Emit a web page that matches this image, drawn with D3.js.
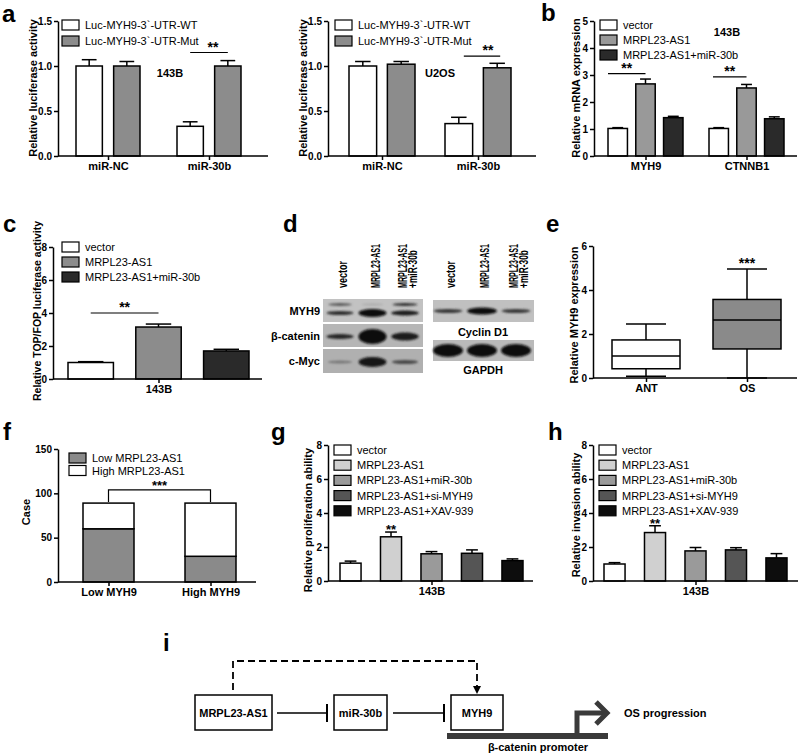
<!DOCTYPE html>
<html>
<head>
<meta charset="utf-8">
<script src="https://cdn.jsdelivr.net/npm/d3@7"></script>
<style>
  body { margin: 0; background: #fff; }
</style>
</head>
<body>
<script>
// ---- data ----
const lucGroups = ["miR-NC", "miR-30b"];
const lucSeries = ["Luc-MYH9-3`-UTR-WT", "Luc-MYH9-3`-UTR-Mut"];
const luc143B = [[1.0, 1.0], [0.33, 1.0]];
const luc143BErr = [[0.07, 0.05], [0.05, 0.06]];
const lucU2OS = [[1.0, 1.02], [0.36, 0.98]];
const lucU2OSErr = [[0.05, 0.03], [0.07, 0.05]];
const lucTicks = [0, 0.5, 1.0, 1.5];

const treat3 = ["vector", "MRPL23-AS1", "MRPL23-AS1+miR-30b"];
const mrnaGenes = ["MYH9", "CTNNB1"];
const mrnaVals = [[1.02, 2.67, 1.42], [1.02, 2.52, 1.38]];
const mrnaErr = [[0.03, 0.18, 0.05], [0.03, 0.13, 0.07]];
const mrnaTicks = [0, 1, 2, 3, 4, 5];

const cellLine = ["143B"];
const topfopVals = [[1.0, 3.15, 1.7]];
const topfopErr = [[0.05, 0.18, 0.1]];
const eightTicks = [0, 2, 4, 6, 8];

const blotLanes = ["vector", "MRPL23-AS1", "MRPL23-AS1 +miR-30b"];
const blotLeftRows = ["MYH9", "β-catenin", "c-Myc"];
const blotLeftDark = [[0.8, 1.0, 0.9], [0.85, 1.0, 0.9], [0.4, 0.95, 0.65]];
const blotLeftThick = [[4, 8, 5], [5, 15, 8], [3, 10, 4]];
const myh9UpperDark = [0.55, 0.1, 0.8];
const blotRightRows = ["Cyclin D1", "GAPDH"];
const blotRightDark = [[0.75, 0.98, 0.75], [1.0, 1.0, 1.0]];
const blotRightThick = [[4, 7, 4], [13, 13, 13]];

const boxGroups = ["ANT", "OS"];
const boxMin = [0.08, 0];
const boxQ1 = [0.42, 1.32];
const boxMed = [1.0, 2.64];
const boxQ3 = [1.73, 3.57];
const boxMax = [2.45, 4.95];
const boxTicks = [0, 2, 4, 6];

const caseGroups = ["Low MYH9", "High MYH9"];
const caseSeries = ["Low MRPL23-AS1", "High MRPL23-AS1"];
const caseLow = [60, 29];
const caseHigh = [29, 60];
const caseTicks = [0, 50, 100, 150];

const treat5 = ["vector", "MRPL23-AS1", "MRPL23-AS1+miR-30b", "MRPL23-AS1+si-MYH9", "MRPL23-AS1+XAV-939"];
const prolifVals = [[1.05, 2.6, 1.6, 1.63, 1.2]];
const prolifErr = [[0.12, 0.28, 0.13, 0.2, 0.1]];
const invasVals = [[1.0, 2.85, 1.77, 1.83, 1.36]];
const invasErr = [[0.08, 0.4, 0.2, 0.13, 0.25]];

// ---- helpers ----
const FONT = "'Liberation Sans', Arial, sans-serif";
const svg = d3.select("body").append("svg")
  .attr("width", 800).attr("height", 755)
  .style("font-family", FONT);

svg.append("defs").append("filter").attr("id", "blur")
  .attr("x", "-30%").attr("y", "-100%").attr("width", "160%").attr("height", "300%")
  .append("feGaussianBlur").attr("stdDeviation", 1.3);

function letter(t, x, y) {
  svg.append("text").attr("x", x).attr("y", y)
    .attr("font-size", 24).attr("font-weight", "bold").text(t);
}

function yAxis(x0, y, ticks, fmt) {
  const ax = svg.append("g").attr("transform", `translate(${x0},0)`)
    .call(d3.axisLeft(y).tickValues(ticks).tickFormat(fmt).tickSize(4).tickSizeOuter(0).tickPadding(2));
  ax.attr("font-family", FONT).attr("font-size", 10).attr("font-weight", "bold");
  ax.selectAll("path,line").attr("stroke-width", 1.5);
}

function xAxis(x, y0, xa, xb) {
  svg.append("line").attr("x1", xa).attr("x2", xb).attr("y1", y0).attr("y2", y0)
    .attr("stroke", "#000").attr("stroke-width", 1.5);
  const ax = svg.append("g").attr("transform", `translate(0,${y0})`)
    .call(d3.axisBottom(x).tickSize(4).tickSizeOuter(0).tickPadding(2));
  ax.select(".domain").remove();
  ax.attr("font-family", FONT).attr("font-size", 11).attr("font-weight", "bold");
  ax.selectAll("line").attr("stroke-width", 1.5);
}

function yTitle(t, x, yc, fs) {
  svg.append("text").attr("transform", `translate(${x},${yc}) rotate(-90)`)
    .attr("text-anchor", "middle").attr("font-size", fs || 11).attr("font-weight", "bold").text(t);
}

function label(t, x, y, fs, anchor) {
  svg.append("text").attr("x", x).attr("y", y).attr("text-anchor", anchor || "middle")
    .attr("font-size", fs || 11).attr("font-weight", "bold").text(t);
}

function legend(items, colors, x, y0, dy) {
  const g = svg.append("g").attr("transform", `translate(${x},${y0})`);
  const row = g.selectAll("g").data(items).join("g")
    .attr("transform", (d, i) => `translate(0,${i * dy})`);
  row.append("rect").attr("x", 0).attr("y", -5).attr("width", 17).attr("height", 10)
    .attr("fill", (d, i) => colors[i]).attr("stroke", "#000").attr("stroke-width", 1.2);
  row.append("text").attr("x", 23).attr("y", 4).attr("font-size", 11).text(d => d);
}

function bars(groups, series, vals, errs, colors, x, inner, y) {
  const data = [];
  groups.forEach((gn, i) => series.forEach((s, j) =>
    data.push({ g: gn, s: s, j: j, v: vals[i][j], e: errs[i][j] })));
  const bw = inner.bandwidth();
  const cx = d => x(d.g) + inner(d.s) + bw / 2;
  const g = svg.append("g").attr("stroke", "#000").attr("stroke-width", 1.5);
  g.selectAll(".eb").data(data).join("line").attr("class", "eb")
    .attr("x1", cx).attr("x2", cx).attr("y1", d => y(d.v)).attr("y2", d => y(d.v + d.e));
  g.selectAll(".cap").data(data).join("line").attr("class", "cap")
    .attr("x1", d => cx(d) - bw * 0.28).attr("x2", d => cx(d) + bw * 0.28)
    .attr("y1", d => y(d.v + d.e)).attr("y2", d => y(d.v + d.e));
  g.selectAll("rect").data(data).join("rect")
    .attr("x", d => x(d.g) + inner(d.s)).attr("y", d => y(d.v))
    .attr("width", bw).attr("height", d => y(0) - y(d.v))
    .attr("fill", d => colors[d.j]);
}

function sigLine(xa, xb, yy, stars, shift) {
  svg.append("line").attr("x1", xa).attr("x2", xb).attr("y1", yy).attr("y2", yy)
    .attr("stroke", "#000").attr("stroke-width", 1.2);
  label(stars, (xa + xb) / 2 + (shift || 0), yy - 1, 14);
}

// ---- panel a (143B) ----
letter("a", 2, 22);
{
  const y = d3.scaleLinear().domain([0, 1.5]).range([156, 21]);
  const x = d3.scalePoint().domain(lucGroups).range([108, 209]);
  const inner = d3.scaleBand().domain(lucSeries).range([-32, 32]).paddingInner(0.3);
  bars(lucGroups, lucSeries, luc143B, luc143BErr, ["#fff", "#8c8c8c"], x, inner, y);
  xAxis(x, y(0), 58, 268);
  yAxis(58, y, lucTicks, d3.format(".1f"));
  yTitle("Relative luciferase activity", 37, 88);
  legend(lucSeries, ["#fff", "#8c8c8c"], 62, 25, 16);
  label("143B", 170, 77);
  const bw = inner.bandwidth();
  sigLine(x("miR-30b") + inner(lucSeries[0]) + bw / 2, x("miR-30b") + inner(lucSeries[1]) + bw / 2, y(1.15), "**", 4);
}

// ---- panel a (U2OS) ----
{
  const y = d3.scaleLinear().domain([0, 1.5]).range([156, 21]);
  const x = d3.scalePoint().domain(lucGroups).range([382, 478]);
  const inner = d3.scaleBand().domain(lucSeries).range([-33, 33]).paddingInner(0.28);
  bars(lucGroups, lucSeries, lucU2OS, lucU2OSErr, ["#fff", "#8c8c8c"], x, inner, y);
  xAxis(x, y(0), 328, 536);
  yAxis(328, y, lucTicks, d3.format(".1f"));
  yTitle("Relative luciferase activity", 307, 88);
  legend(lucSeries, ["#fff", "#8c8c8c"], 335, 25, 16);
  label("U2OS", 440, 77);
  const bw = inner.bandwidth();
  sigLine(x("miR-30b") + inner(lucSeries[0]) + bw / 2 + 5, x("miR-30b") + inner(lucSeries[1]) + bw / 2 + 3, y(1.11), "**", 6);
}

// ---- panel b ----
letter("b", 541, 21);
{
  const cols = ["#fff", "#999", "#2a2a2a"];
  const y = d3.scaleLinear().domain([0, 5]).range([156, 21]);
  const x = d3.scalePoint().domain(mrnaGenes).range([645.5, 746.5]);
  const inner = d3.scaleBand().domain(treat3).range([-37.5, 37.5]).paddingInner(0.3);
  bars(mrnaGenes, treat3, mrnaVals, mrnaErr, cols, x, inner, y);
  xAxis(x, y(0), 594, 797);
  yAxis(594, y, mrnaTicks, d3.format("d"));
  yTitle("Relative mRNA expression", 580, 88);
  legend(treat3, cols, 600, 25, 15);
  label("143B", 727, 36);
  const bw = inner.bandwidth();
  sigLine(x("MYH9") + inner(treat3[0]), x("MYH9") + inner(treat3[1]) + bw / 2, y(3.05), "**");
  sigLine(x("CTNNB1") + inner(treat3[0]) + 4, x("CTNNB1") + inner(treat3[1]) + bw / 2, y(2.93), "**");
}

// ---- panel c ----
letter("c", 3, 232);
{
  const cols = ["#fff", "#8c8c8c", "#2a2a2a"];
  const y = d3.scaleLinear().domain([0, 8]).range([379, 247]);
  const x = d3.scalePoint().domain(cellLine).range([158.5, 158.5]);
  const inner = d3.scaleBand().domain(treat3).range([-90.5, 90.5]).paddingInner(0.33);
  bars(cellLine, treat3, topfopVals, topfopErr, cols, x, inner, y);
  xAxis(x, y(0), 53, 262);
  yAxis(53, y, eightTicks, d3.format("d"));
  yTitle("Relative TOP/FOP luciferase activity", 41, 311, 10.5);
  legend(treat3, cols, 62, 247, 15);
  const bw = inner.bandwidth();
  sigLine(x("143B") + inner(treat3[0]) + bw / 2, x("143B") + inner(treat3[1]) + bw / 2, y(4), "**");
}

// ---- panel d (western blots) ----
letter("d", 283, 232);
{
  const lanesL = d3.scalePoint().domain(blotLanes).range([340, 405]);
  const lanesR = d3.scalePoint().domain(blotLanes).range([448, 516]);
  const shade = d3.interpolateRgb("#bdbdbd", "#0c0c0c");

  function strip(x0, x1, y0, y1, fill) {
    svg.append("rect").attr("x", x0).attr("y", y0).attr("width", x1 - x0).attr("height", y1 - y0)
      .attr("fill", fill);
  }
  function bandRow(lanes, yc, dark, thick, wide) {
    svg.append("g").attr("filter", "url(#blur)")
      .selectAll("ellipse").data(blotLanes).join("ellipse")
      .attr("cx", d => lanes(d)).attr("cy", yc)
      .attr("rx", (d, i) => wide * (0.8 + 0.2 * dark[i]))
      .attr("ry", (d, i) => thick[i] / 2)
      .attr("fill", (d, i) => shade(dark[i]));
  }

  // left blot
  const leftY = [[299, 322], [324, 347], [349, 373]];
  const leftBg = ["#c2c2c2", "#b6b6b6", "#b0b0b0"];
  blotLeftRows.forEach((r, k) => {
    strip(323, 423, leftY[k][0], leftY[k][1], leftBg[k]);
    const yc = k === 0 ? 313 : (leftY[k][0] + leftY[k][1]) / 2 + 1;
    bandRow(lanesL, yc, blotLeftDark[k], blotLeftThick[k], 14);
    label(r, 320, (leftY[k][0] + leftY[k][1]) / 2 + 4, 11, "end");
  });
  bandRow(lanesL, 304.5, myh9UpperDark, [3, 2, 3], 13);

  // right blot
  const rightY = [[300, 322], [340, 361]];
  blotRightRows.forEach((r, k) => {
    strip(433, 534, rightY[k][0], rightY[k][1], k === 0 ? "#c0c0c0" : "#bababa");
    bandRow(lanesR, (rightY[k][0] + rightY[k][1]) / 2, blotRightDark[k], blotRightThick[k], 15);
    label(r, 483, k === 0 ? 336 : 374, 11);
  });

  // lane labels, rotated
  const laneLen = [27, 44, 44];
  [lanesL, lanesR].forEach(lanes => {
    blotLanes.forEach((d, i) => {
      const parts = d.split(" ");
      parts.forEach((p, j) => {
        const xb = lanes(d) + 7 + (parts.length > 1 ? (j - 0.5) * 10 : 0);
        svg.append("text").attr("transform", `translate(${xb},288) rotate(-90)`)
          .attr("font-size", 12.5).attr("font-weight", "bold")
          .attr("textLength", j === 1 ? 38 : laneLen[i]).attr("lengthAdjust", "spacingAndGlyphs")
          .text(p);
      });
    });
  });
}

// ---- panel e (box plot) ----
letter("e", 546, 232);
{
  const y = d3.scaleLinear().domain([0, 6]).range([378, 246]);
  const x = d3.scalePoint().domain(boxGroups).range([646, 747]);
  const bw = 68, cw = 40;
  const fills = ["#fff", "#8a8a8a"];
  const data = boxGroups.map((g, i) => ({ g, i, min: boxMin[i], q1: boxQ1[i], med: boxMed[i], q3: boxQ3[i], max: boxMax[i] }));
  const g = svg.append("g").attr("stroke", "#000").attr("stroke-width", 1.5);
  g.selectAll(".wh").data(data).join("line").attr("class", "wh")
    .attr("x1", d => x(d.g)).attr("x2", d => x(d.g)).attr("y1", d => y(d.min)).attr("y2", d => y(d.max));
  g.selectAll(".capt").data(data).join("line").attr("class", "capt")
    .attr("x1", d => x(d.g) - cw / 2).attr("x2", d => x(d.g) + cw / 2)
    .attr("y1", d => y(d.max)).attr("y2", d => y(d.max));
  g.selectAll(".capb").data(data).join("line").attr("class", "capb")
    .attr("x1", d => x(d.g) - cw / 2).attr("x2", d => x(d.g) + cw / 2)
    .attr("y1", d => y(d.min)).attr("y2", d => y(d.min));
  g.selectAll("rect").data(data).join("rect")
    .attr("x", d => x(d.g) - bw / 2).attr("width", bw)
    .attr("y", d => y(d.q3)).attr("height", d => y(d.q1) - y(d.q3))
    .attr("fill", d => fills[d.i]);
  g.selectAll(".med").data(data).join("line").attr("class", "med")
    .attr("x1", d => x(d.g) - bw / 2).attr("x2", d => x(d.g) + bw / 2)
    .attr("y1", d => y(d.med)).attr("y2", d => y(d.med));
  xAxis(x, y(0), 593, 797);
  yAxis(593, y, boxTicks, d3.format("d"));
  yTitle("Relative MYH9 expression", 578, 315);
  label("***", x("OS"), y(boxMax[1]) - 1, 14);
}

// ---- panel f (stacked) ----
letter("f", 3, 440);
{
  const y = d3.scaleLinear().domain([0, 150]).range([582, 449]);
  const x = d3.scalePoint().domain(caseGroups).range([108.5, 210.5]);
  const bw = 51;
  const cols = ["#8a8a8a", "#fff"];
  const rows = caseGroups.map((g, i) => ({ g, low: caseLow[i], high: caseHigh[i] }));
  const stacked = d3.stack().keys(["low", "high"])(rows);
  svg.append("g").attr("stroke", "#000").attr("stroke-width", 1.5)
    .selectAll("g").data(stacked).join("g").attr("fill", (d, i) => cols[i])
    .selectAll("rect").data(d => d).join("rect")
    .attr("x", d => x(d.data.g) - bw / 2).attr("width", bw)
    .attr("y", d => y(d[1])).attr("height", d => y(d[0]) - y(d[1]));
  xAxis(x, y(0), 58, 256);
  yAxis(58, y, caseTicks, d3.format("d"));
  yTitle("Case", 30, 512);
  legend(caseSeries, cols, 69, 458, 12.5);
  const top = y(caseLow[0] + caseHigh[0]) - 1;
  const by = y(104);
  svg.append("path")
    .attr("d", `M${x(caseGroups[0])},${top}V${by}H${x(caseGroups[1])}V${top}`)
    .attr("fill", "none").attr("stroke", "#000").attr("stroke-width", 1.2);
  label("***", (x(caseGroups[0]) + x(caseGroups[1])) / 2, by, 13);
}

// ---- panels g and h ----
const fiveCols = ["#fff", "#d0d0d0", "#9a9a9a", "#555", "#0d0d0d"];
function fivePanel(ax0, cx, vals, errs, title, titleX, titleY, legX, letterX, letterT) {
  letter(letterT, letterX, 440);
  const y = d3.scaleLinear().domain([0, 8]).range([581, 445]);
  const x = d3.scalePoint().domain(cellLine).range([cx, cx]);
  const inner = d3.scaleBand().domain(treat5).range([-91.5, 91.5]).paddingInner(0.48);
  bars(cellLine, treat5, vals, errs, fiveCols, x, inner, y);
  xAxis(x, y(0), ax0, ax0 + 205);
  yAxis(ax0, y, eightTicks, d3.format("d"));
  yTitle(title, titleX, titleY);
  legend(treat5, fiveCols, legX, 450, 15.2);
  const bw = inner.bandwidth();
  label("**", cx + inner(treat5[1]) + bw / 2, y(vals[0][1] + errs[0][1]) + 2, 13);
}
fivePanel(328, 431.5, prolifVals, prolifErr, "Relative proliferation ability", 312, 520, 334, 271, "g");
fivePanel(593, 695.5, invasVals, invasErr, "Relative invasion ability", 580, 515, 599, 548, "h");

// ---- panel i (schematic) ----
letter("i", 163, 651);
{
  const boxes = [
    { t: "MRPL23-AS1", x0: 195, x1: 272 },
    { t: "miR-30b", x0: 334, x1: 387 },
    { t: "MYH9", x0: 451, x1: 503 }
  ];
  const g = svg.append("g");
  g.selectAll("rect").data(boxes).join("rect")
    .attr("x", d => d.x0).attr("y", 695).attr("width", d => d.x1 - d.x0).attr("height", 35)
    .attr("fill", "#fff").attr("stroke", "#000").attr("stroke-width", 1.5);
  g.selectAll("text").data(boxes).join("text")
    .attr("x", d => (d.x0 + d.x1) / 2).attr("y", 716.5).attr("text-anchor", "middle")
    .attr("font-size", 11).attr("font-weight", "bold").text(d => d.t);

  const inh = [[277, 327], [393, 444]];
  inh.forEach(([a, b]) => {
    g.append("line").attr("x1", a).attr("x2", b).attr("y1", 713).attr("y2", 713)
      .attr("stroke", "#000").attr("stroke-width", 1.5);
    g.append("line").attr("x1", b).attr("x2", b).attr("y1", 704).attr("y2", 722)
      .attr("stroke", "#000").attr("stroke-width", 2);
  });

  g.append("path").attr("d", "M233,690V661H477V687")
    .attr("fill", "none").attr("stroke", "#000").attr("stroke-width", 1.8)
    .attr("stroke-dasharray", "7,4");
  g.append("path").attr("d", "M473,686L481,686L477,694Z").attr("fill", "#000");

  g.append("line").attr("x1", 447).attr("x2", 608).attr("y1", 736).attr("y2", 736)
    .attr("stroke", "#3a3a3a").attr("stroke-width", 6);
  g.append("path").attr("d", "M577,736V713H605")
    .attr("fill", "none").attr("stroke", "#3a3a3a").attr("stroke-width", 5);
  g.append("path").attr("d", "M596,702L607,713L596,724")
    .attr("fill", "none").attr("stroke", "#3a3a3a").attr("stroke-width", 5);
  label("OS progression", 624, 717, 11, "start");
  label("β-catenin promoter", 538, 751, 11);
}
</script>
</body>
</html>
